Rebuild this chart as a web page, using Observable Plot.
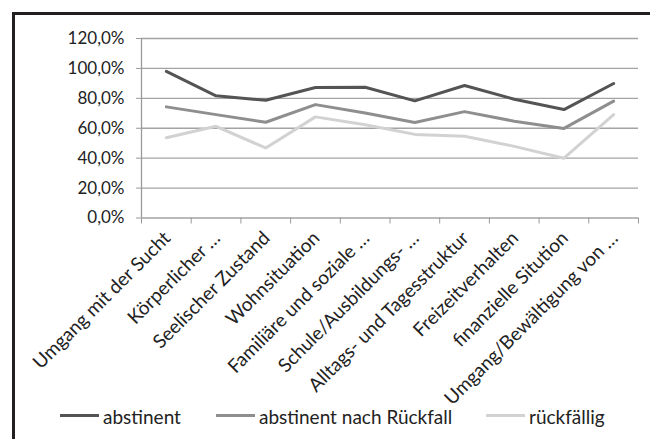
<!DOCTYPE html>
<html><head><meta charset="utf-8">
<script src="https://cdn.jsdelivr.net/npm/d3@7"></script>
<script src="https://cdn.jsdelivr.net/npm/@observablehq/plot@0.6"></script>
<style>
html,body{margin:0;padding:0;background:#fff}
body{width:650px;height:439px;overflow:hidden;position:relative;font-family:Lato,"Open Sans",sans-serif}
#frame{position:absolute;left:12px;top:12px;width:700px;height:500px;border:3px solid #231f20;box-sizing:border-box}
#chart{position:absolute;left:0;top:0}
.leg{position:absolute;top:404px;height:24px;display:flex;align-items:center;font-size:19px;color:#222;white-space:nowrap}
.sw{width:39px;height:3px;margin-right:4px;margin-top:-2px}
</style></head><body>
<div id="frame"></div>
<div id="chart"></div>
<div id="legend"></div>
<script>
const categories = [
  "Umgang mit der Sucht",
  "Körperlicher …",
  "Seelischer Zustand",
  "Wohnsituation",
  "Familiäre und soziale …",
  "Schule/Ausbildungs- …",
  "Alltags- und Tagesstruktur",
  "Freizeitverhalten",
  "finanzielle Sitution",
  "Umgang/Bewältigung von …"
];
const seriesNames = ["abstinent", "abstinent nach Rückfall", "rückfällig"];
const abstinent = [98.0, 81.7, 78.7, 87.2, 87.4, 78.3, 88.6, 79.4, 72.5, 89.9];
const abstinentNachRueckfall = [74.3, 69.1, 64.0, 75.8, 70.2, 63.8, 71.1, 64.7, 59.9, 78.1];
const rueckfaellig = [53.7, 61.3, 46.8, 67.6, 62.4, 55.9, 54.6, 47.9, 40.0, 69.1];
const seriesColors = ["#545454", "#8e8e8e", "#d2d2d2"];
const yTicks = [0, 20, 40, 60, 80, 100, 120];
const yTickLabels = ["0,0%", "20,0%", "40,0%", "60,0%", "80,0%", "100,0%", "120,0%"];

const seriesValues = [abstinent, abstinentNachRueckfall, rueckfaellig];
const rows = [];
seriesNames.forEach((s, si) => seriesValues[si].forEach((v, i) => rows.push({series: s, idx: i, value: v})));
const xBounds = d3.range(categories.length + 1);

const chart = Plot.plot({
  width: 650,
  height: 439,
  marginLeft: 141,
  marginRight: 12,
  marginTop: 38,
  marginBottom: 221.5,
  style: {fontFamily: "Lato, 'Open Sans', sans-serif", fontSize: "17px", background: "transparent"},
  x: {domain: [0, categories.length], axis: null},
  y: {domain: [0, 120], axis: null},
  color: {domain: seriesNames, range: seriesColors},
  marks: [
    Plot.ruleY(yTicks, {stroke: "#a3a3a3", strokeWidth: 1.3}),
    Plot.ruleX([0], {stroke: "#9a9a9a", strokeWidth: 1.3}),
    Plot.axisY({ticks: yTicks, label: null, tickFormat: d => yTickLabels[yTicks.indexOf(d)], tickSize: 5, tickPadding: 12, stroke: "#9a9a9a", fill: "#222", fontSize: 17}),
    Plot.axisX({ticks: xBounds, label: null, tickFormat: () => "", tickSize: 6, stroke: "#9a9a9a"}),
    Plot.text(categories, {x: (d, i) => i + 0.5, y: () => 0, text: d => d, rotate: -45, textAnchor: "end", dx: 1, dy: 17, fill: "#222", fontSize: 19}),
    Plot.line(rows, {x: d => d.idx + 0.5, y: "value", z: "series", stroke: "series", strokeWidth: 3})
  ]
});
document.getElementById("chart").appendChild(chart);

const legendLeft = [60, 216, 486];
const legend = document.getElementById("legend");
seriesNames.forEach((s, i) => {
  const item = document.createElement("div");
  item.className = "leg";
  item.style.left = legendLeft[i] + "px";
  const sw = document.createElement("div");
  sw.className = "sw";
  sw.style.background = seriesColors[i];
  item.appendChild(sw);
  const t = document.createElement("span");
  t.textContent = s;
  item.appendChild(t);
  legend.appendChild(item);
});
</script>
</body></html>
